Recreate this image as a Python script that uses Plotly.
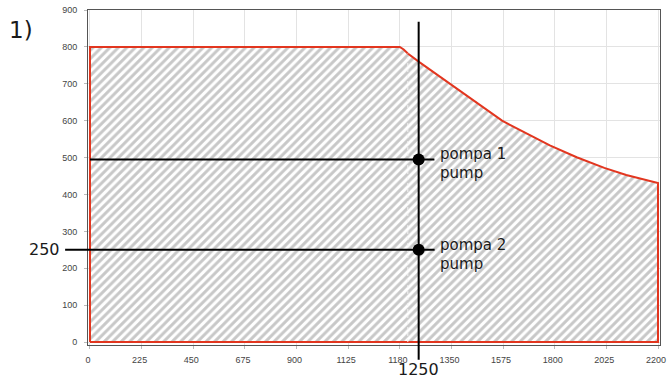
import plotly.graph_objects as go

# tick positions on the axis and the labels printed under them
x_tickvals = [0, 200, 400, 600, 800, 1000, 1200, 1400, 1600, 1800, 2000, 2200]
x_ticktext = ["0", "225", "450", "675", "900", "1125", "1180", "1350", "1575", "1800", "2025", "2200"]
y_tickvals = [0, 100, 200, 300, 400, 500, 600, 700, 800, 900]

# operating envelope (closed outline, drawn in axis units)
curve_x = [0, 0, 1200, 1215, 1231, 1277, 1596, 1781, 1885, 1992, 2077, 2200, 2200, 0]
curve_y = [0, 800, 800, 793, 782, 758, 600, 533, 501, 472, 453, 431, 0, 0]

# duty point of the two pumps
cross_x = 1273
cross_label = "1250"
pump_y = [495, 250]
pump_names = ["pompa 1", "pompa 2"]
knee_x = 1231
knee_y = 782

red = "#e2361f"
label_font = "DejaVu Sans"

fig = go.Figure()

fig.add_trace(go.Scatter(
    x=curve_x, y=curve_y, mode="lines", fill="toself",
    line=dict(color=red, width=2),
    fillcolor="white",
    fillpattern=dict(shape="/", fgcolor="#929292", bgcolor="white", size=6, solidity=0.5),
    hoverinfo="skip", showlegend=False,
))

# faint dashed line at the knee of the curve
fig.add_shape(type="line", xref="x", yref="y", x0=knee_x, x1=knee_x, y0=0, y1=knee_y,
              line=dict(color="#f4f4f4", width=1, dash="dot"))

# horizontal guides
fig.add_shape(type="line", xref="x", yref="y", x0=0, x1=1334, y0=pump_y[0], y1=pump_y[0],
              line=dict(color="black", width=2))
fig.add_shape(type="line", xref="paper", yref="y", x0=-0.04, x1=0.606, y0=pump_y[1], y1=pump_y[1],
              line=dict(color="black", width=2))
# vertical guide
fig.add_shape(type="line", xref="x", yref="paper", x0=cross_x, x1=cross_x, y0=-0.044, y1=0.965,
              line=dict(color="black", width=2))

fig.add_trace(go.Scatter(
    x=[cross_x, cross_x], y=pump_y, mode="markers",
    marker=dict(color="black", size=12), cliponaxis=False,
    hoverinfo="skip", showlegend=False,
))

for name, yv in zip(pump_names, pump_y):
    fig.add_annotation(x=cross_x, y=yv, xref="x", yref="y", text=name, showarrow=False,
                       xanchor="left", yanchor="middle", xshift=19, yshift=5,
                       font=dict(family=label_font, size=15, color="#1a1a1a"))
    fig.add_annotation(x=cross_x, y=yv, xref="x", yref="y", text="pump", showarrow=False,
                       xanchor="left", yanchor="middle", xshift=19, yshift=-14,
                       font=dict(family=label_font, size=15, color="#1a1a1a"))

fig.add_annotation(x=-0.04, y=pump_y[1], xref="paper", yref="y", text="250", showarrow=False,
                   xanchor="right", yanchor="middle", xshift=-3,
                   font=dict(family=label_font, size=16, color="#1a1a1a"))
fig.add_annotation(x=cross_x, y=-0.074, xref="x", yref="paper", text=cross_label, showarrow=False,
                   xanchor="center", yanchor="middle",
                   font=dict(family=label_font, size=16, color="#1a1a1a"))
fig.add_annotation(x=-0.118, y=0.94, xref="paper", yref="paper", text="1)", showarrow=False,
                   xanchor="center", yanchor="middle",
                   font=dict(family=label_font, size=23, color="#1a1a1a"))

axis_common = dict(
    showgrid=True, gridcolor="#e3e3e3", gridwidth=1,
    showline=True, linecolor="#555555", linewidth=1, mirror=True,
    ticks="outside", ticklen=3, tickcolor="#bbbbbb",
    tickfont=dict(family="Liberation Sans", size=9, color="#444444"),
    zeroline=False, fixedrange=True,
)

fig.update_layout(
    width=671, height=383,
    margin=dict(l=88, r=7, t=5, b=38),
    paper_bgcolor="white", plot_bgcolor="white",
    xaxis=dict(range=[-7.7, 2207.7], tickmode="array", tickvals=x_tickvals, ticktext=x_ticktext,
               ticklabelstandoff=3, ticklabelshift=-2, **axis_common),
    yaxis=dict(range=[-8, 900], tickmode="array", tickvals=y_tickvals,
               ticklabelstandoff=5, **axis_common),
    showlegend=False,
)

# the page's default body margin would shift the chart by 8px
fig.write_html("out.html", config={"displayModeBar": False},
               post_script="document.body.style.margin='0';")
